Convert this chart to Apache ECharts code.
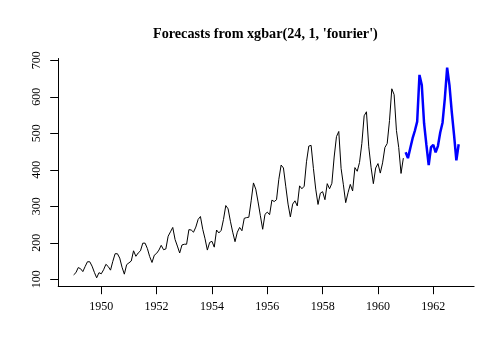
<!DOCTYPE html>
<html>
<head>
<meta charset="utf-8">
<script src="https://cdn.jsdelivr.net/npm/echarts@6/dist/echarts.min.js"></script>
<style>html,body{margin:0;padding:0;background:#fff}#c{width:504px;height:360px}</style>
</head>
<body>
<div id="c"></div>
<script>
// Monthly airline passengers 1949-1960 (observed)
const observed = [
  112,118,132,129,121,135,148,148,136,119,104,118,
  115,126,141,135,125,149,170,170,158,133,114,140,
  145,150,178,163,172,178,199,199,184,162,146,166,
  171,180,193,181,183,218,230,242,209,191,172,194,
  196,196,236,235,229,243,264,272,237,211,180,201,
  204,188,235,227,234,264,302,293,259,229,203,229,
  242,233,267,269,270,315,364,347,312,274,237,278,
  284,277,317,313,318,374,413,405,355,306,271,306,
  315,301,356,348,355,422,465,467,404,347,305,336,
  340,318,362,348,363,435,491,505,404,359,310,337,
  360,342,406,396,420,472,548,559,463,407,362,405,
  417,391,419,461,472,535,622,606,508,461,390,432
];
// 24-month forecasts 1961-1962
const forecast = [
  448,432,459,486,507,532,660,632,527,468,413,462,
  468,448,465,502,529,596,680,632,559,495,426,470
];
const startYear = 1949;
const forecastStart = 1961;
const xTicks = [1950,1952,1954,1956,1958,1960,1962];
const yTicks = [100,200,300,400,500,600,700];
const titleText = "Forecasts from xgbar(24, 1, 'fourier')";

const obsData = observed.map((v,i)=>[startYear + i/12, v]);
const fcData = forecast.map((v,i)=>[forecastStart + i/12, v]);

const chart = echarts.init(document.getElementById('c'), null, {renderer:'canvas'});
const font = "'Liberation Serif','Times New Roman',serif";
chart.setOption({
  animation:false,
  backgroundColor:'#fff',
  title:{
    text:titleText, left:148, top:22,
    textStyle:{fontFamily:font, fontWeight:'bold', fontSize:14.2, color:'#000'}
  },
  grid:{left:58.2, right:29.9, top:58.5, bottom:73.8},
  xAxis:{
    type:'value', min:1948.443, max:1963.474,
    axisLine:{show:true, lineStyle:{color:'#000', width:1}},
    axisTick:{show:true, length:8, inside:false, customValues:xTicks, lineStyle:{color:'#000'}},
    axisLabel:{customValues:xTicks, margin:15, fontFamily:font, fontSize:12, color:'#000',
      formatter:(v)=>String(Math.round(v))},
    splitLine:{show:false}
  },
  yAxis:{
    type:'value', min:81, max:705,
    axisLine:{show:true, lineStyle:{color:'#000', width:1}},
    axisTick:{show:true, length:8, inside:false, customValues:yTicks, lineStyle:{color:'#000'}},
    axisLabel:{customValues:yTicks, rotate:90, margin:15, fontFamily:font, fontSize:12, color:'#000',
      formatter:(v)=>String(Math.round(v))},
    splitLine:{show:false}
  },
  series:[
    {type:'line', data:obsData, showSymbol:false, lineStyle:{color:'#000', width:1}, z:2},
    {type:'line', data:fcData, showSymbol:false, lineStyle:{color:'#0000FF', width:2.5}, z:3}
  ]
});
</script>
</body>
</html>
